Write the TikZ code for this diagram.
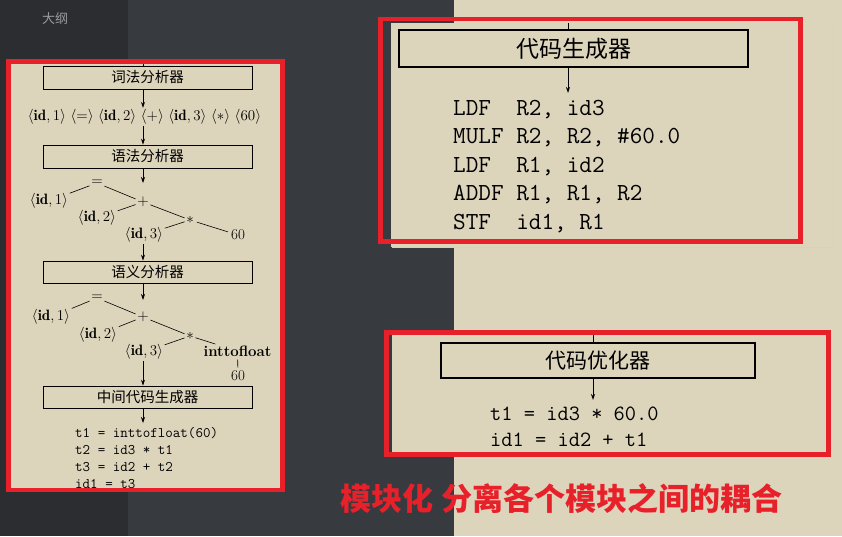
\RequirePackage{fix-cm}
\documentclass[tikz,border=0pt]{standalone}
\usepackage{fontspec}
\newfontfamily\cjk{Noto Sans CJK SC}
\usetikzlibrary{arrows.meta}
\definecolor{paper}{HTML}{DCD4BB}
\definecolor{sidebar}{HTML}{2C2D31}
\definecolor{midbg}{HTML}{373A3F}
\definecolor{redline}{HTML}{E8202A}
\definecolor{hint}{HTML}{9A9CA0}
\begin{document}
\begin{tikzpicture}[x=1pt,y=-1pt,
    stage/.style={draw,line width=0.8pt,inner sep=0pt},
    flow/.style={-{Stealth[length=6pt,width=4pt]},line width=0.7pt},
    tree/.style={inner sep=1.5pt,font=\fontsize{15}{15}\selectfont},
    edge/.style={line width=0.6pt,shorten <=1.5pt,shorten >=1.5pt},
    frame/.style={draw=redline,line width=4.5pt},
    tac/.style={align=left,inner sep=0pt,anchor=north west}]
    \useasboundingbox (0,0) rectangle (842,536);
    \fill[sidebar] (0,0) rectangle (128,536);
    \fill[midbg] (128,0) rectangle (454,536);
    \fill[paper] (454,0) rectangle (842,536);
    \node[text=hint,font=\cjk\fontsize{13}{13}\selectfont] (outline) at (55,18.5) {大纲};
    % front end
    \fill[paper] (7,60) rectangle (283,491);
    \coordinate (ax) at (143,60);
    \node[stage,minimum width=209pt,minimum height=23pt,font=\cjk\fontsize{14.5}{14.5}\selectfont] (lex) at (147.5,77.5) {词法分析器};
    \node[tree] (tok) at (144.5,117) {$\langle\mathbf{id},1\rangle$ $\langle=\rangle$ $\langle\mathbf{id},2\rangle$ $\langle+\rangle$ $\langle\mathbf{id},3\rangle$ $\langle*\rangle$ $\langle60\rangle$};
    \node[stage,minimum width=209pt,minimum height=23pt,font=\cjk\fontsize{14.5}{14.5}\selectfont] (syn) at (147.5,156.5) {语法分析器};
    \coordinate (in1) at (143,183);
    \node[tree] (eq1) at (97,183) {$=$};
    \node[tree] (a1) at (49,201) {$\langle\mathbf{id},1\rangle$};
    \node[tree] (p1) at (143,202) {$+$};
    \node[tree] (b1) at (97,218) {$\langle\mathbf{id},2\rangle$};
    \node[tree] (m1) at (190,220) {$*$};
    \node[tree] (c1) at (144,235) {$\langle\mathbf{id},3\rangle$};
    \node[tree] (n1) at (238,235) {60};
    \node[stage,minimum width=209pt,minimum height=22pt,font=\cjk\fontsize{14.5}{14.5}\selectfont] (sem) at (147.5,272) {语义分析器};
    \coordinate (in2) at (143,300);
    \node[tree] (eq2) at (97,298) {$=$};
    \node[tree] (a2) at (51,317) {$\langle\mathbf{id},1\rangle$};
    \node[tree] (p2) at (143,317) {$+$};
    \node[tree] (b2) at (98,335) {$\langle\mathbf{id},2\rangle$};
    \node[tree] (m2) at (190,336) {$*$};
    \node[tree] (c2) at (144,352) {$\langle\mathbf{id},3\rangle$};
    \node[tree] (f2) at (237.5,351) {\textbf{inttofloat}};
    \node[tree] (n2) at (238,376) {60};
    \node[stage,minimum width=209pt,minimum height=22pt,font=\cjk\fontsize{14.5}{14.5}\selectfont] (icg) at (147.5,397) {中间代码生成器};
    \node[tac,font=\ttfamily\fontsize{14.6}{17}\selectfont] (tac1) at (75,427) {t1 = inttofloat(60)\\t2 = id3 * t1\\t3 = id2 + t2\\id1 = t3};
    \draw[line width=0.7pt] (ax) -- (lex.north -| ax);
    \draw[flow] (lex.south -| ax) -- (tok.north -| ax);
    \draw[flow] (tok.south -| ax) -- (syn.north -| ax);
    \draw[flow] (syn.south -| ax) -- (in1);
    \draw[edge] (eq1) -- (a1) (eq1) -- (p1) (p1) -- (b1) (p1) -- (m1) (m1) -- (c1) (m1) -- (n1);
    \draw[flow] (c1.south -| ax) -- (sem.north -| ax);
    \draw[flow] (sem.south -| ax) -- (in2);
    \draw[edge] (eq2) -- (a2) (eq2) -- (p2) (p2) -- (b2) (p2) -- (m2) (m2) -- (c2) (m2) -- (f2) (f2) -- (n2);
    \draw[flow] (c2.south -| ax) -- (icg.north -| ax);
    \draw[flow,shorten >=4pt] (icg.south -| ax) -- (tac1.north -| ax);
    \draw[frame] (8.5,61.5) rectangle (282.5,490);
    % code generator
    \fill[paper] (391,23) rectangle (833,247);
    \draw[black!18,line width=1pt] (833,24) -- (833,247) -- (392,247);
    \coordinate (gtop) at (568,23);
    \node[stage,line width=1.2pt,minimum width=349pt,minimum height=37pt,font=\cjk\fontsize{23}{23}\selectfont] (gen) at (573.5,48.5) {代码生成器};
    \node[tac,font=\ttfamily\fontsize{24.5}{28.5}\selectfont] (asm) at (453,100) {LDF\ \ R2, id3\\MULF R2, R2, \#60.0\\LDF\ \ R1, id2\\ADDF R1, R1, R2\\STF\ \ id1, R1};
    \draw[line width=0.9pt] (gtop) -- (gen.north -| gtop);
    \draw[flow,line width=0.9pt,shorten >=7pt] (gen.south -| gtop) -- (asm.north -| gtop);
    \draw[frame] (380.5,19) rectangle (800.5,241.5);
    % optimizer
    \fill[paper] (392,335) rectangle (827,455);
    \coordinate (otop) at (593,335);
    \node[stage,line width=1.1pt,minimum width=314pt,minimum height=35pt,font=\cjk\fontsize{21}{21}\selectfont] (opt) at (598,360.5) {代码优化器};
    \node[tac,font=\ttfamily\fontsize{21.8}{26}\selectfont] (optc) at (490,407) {t1 = id3 * 60.0\\id1 = id2 + t1};
    \draw[line width=0.9pt] (otop) -- (opt.north -| otop);
    \draw[flow,line width=0.9pt,shorten >=7pt] (opt.south -| otop) -- (optc.north -| otop);
    \draw[frame] (386.5,332.5) rectangle (828.5,454.5);
    \node[text=redline,font=\cjk\bfseries\fontsize{31}{31}\selectfont] (note) at (561.5,499) {模块化 分离各个模块之间的耦合};
\end{tikzpicture}
\end{document}
